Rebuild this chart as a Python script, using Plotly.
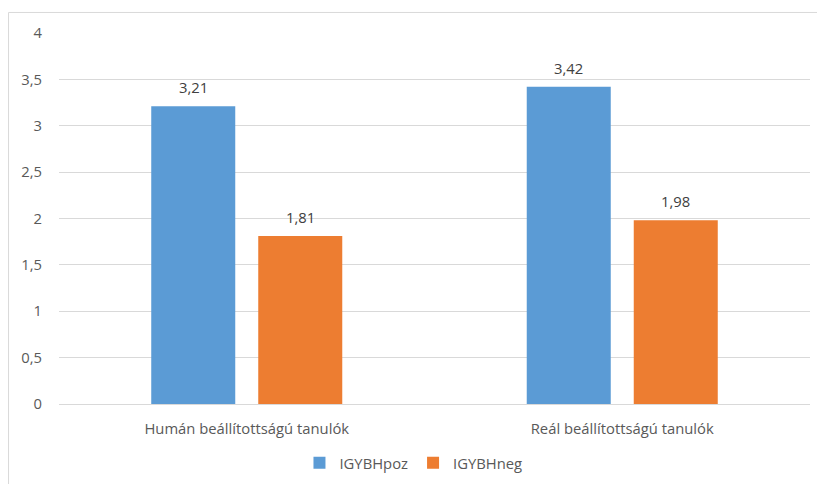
import plotly.graph_objects as go

categories = ["Humán beállítottságú tanulók", "Reál beállítottságú tanulók"]
series_names = ["IGYBHpoz", "IGYBHneg"]
poz_values = [3.21, 3.42]
neg_values = [1.81, 1.98]
colors = ["#5B9BD5", "#ED7D31"]
y_ticks = [0, 0.5, 1, 1.5, 2, 2.5, 3, 3.5, 4]

FONT = "Open Sans"
SIZE = 14.8
TEXT_GREY = "#595959"
GRID = "#d9d9d9"

fig = go.Figure()
for name, vals, col in zip(series_names, [poz_values, neg_values], colors):
    fig.add_trace(go.Bar(
        x=categories, y=vals, name=name,
        marker=dict(color=col, line=dict(width=0)),
    ))

# value labels above each bar
offsets = [-0.5, 0.5]
for off, vals in zip(offsets, [poz_values, neg_values]):
    for i, v in enumerate(vals):
        fig.add_annotation(
            x=i + off * 0.285, y=v, xref="x", yref="y",
            text=f"{v:.2f}".replace(".", ","),
            showarrow=False, yshift=19,
            font=dict(family=FONT, size=SIZE, color="#404040"),
        )

# light chart frame
fig.add_shape(type="line", xref="paper", yref="paper",
              x0=-0.0672, x1=1.02, y0=1.0553, y1=1.0553,
              line=dict(color=GRID, width=1))
fig.add_shape(type="line", xref="paper", yref="paper",
              x0=-0.0672, x1=-0.0672, y0=-0.25, y1=1.0553,
              line=dict(color=GRID, width=1))

fig.update_layout(
    width=817, height=484,
    margin=dict(l=59, r=7, t=33, b=80, autoexpand=False),
    paper_bgcolor="white", plot_bgcolor="white",
    separators=", ",
    barmode="group", bargap=0.43, bargroupgap=0.215,
    font=dict(family=FONT, size=SIZE, color=TEXT_GREY),
    showlegend=True,
    legend=dict(orientation="h", x=0.472, xanchor="center",
                yref="container", y=0.043, yanchor="middle",
                font=dict(family=FONT, size=SIZE, color=TEXT_GREY),
                itemwidth=30, traceorder="normal"),
    xaxis=dict(showgrid=False, showline=True, linecolor=GRID, linewidth=1,
               ticks="", tickfont=dict(family=FONT, size=SIZE, color=TEXT_GREY),
               ticklabelstandoff=11),
    yaxis=dict(range=[0, 4], tickvals=y_ticks, showgrid=True, gridcolor=GRID, gridwidth=1,
               zeroline=False, showline=False, ticks="",
               tickfont=dict(family=FONT, size=SIZE, color=TEXT_GREY),
               ticklabelstandoff=16),
)

fig.write_html("out.html")
